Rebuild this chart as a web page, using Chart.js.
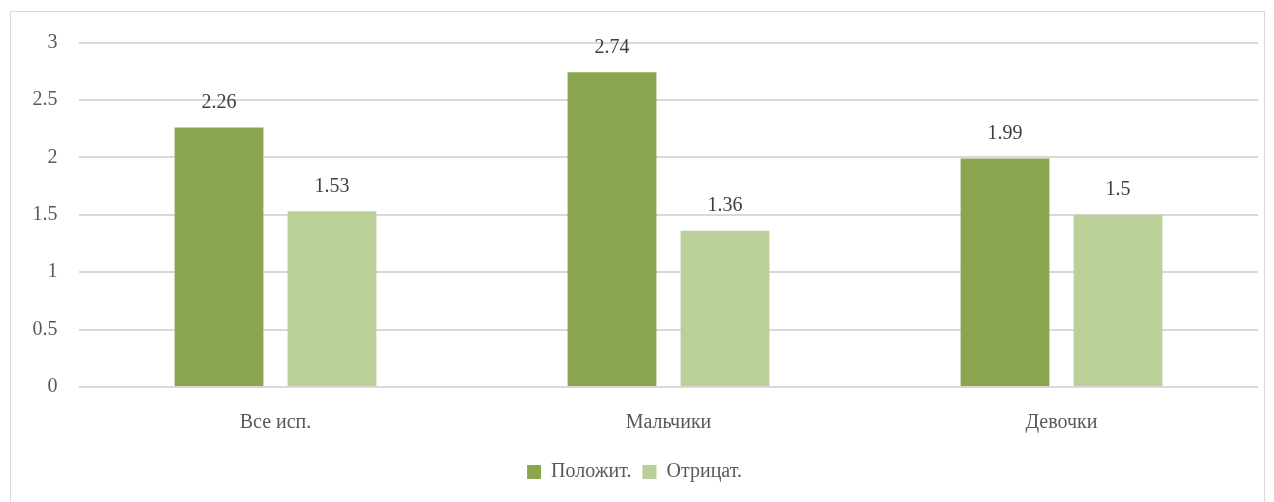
<!DOCTYPE html>
<html>
<head>
<meta charset="utf-8">
<script src="https://cdn.jsdelivr.net/npm/chart.js@4.4.1/dist/chart.umd.min.js"></script>
<style>
    html, body { margin: 0; padding: 0; background: #fff; }
    #box {
        position: absolute; left: 10px; top: 11px;
        width: 1253px; height: 500px;
        border: 1px solid #d9d9d9;
        overflow: hidden;
    }
    #box canvas { display: block; position: absolute; left: 0; top: -3px; }
</style>
</head>
<body>
<div id="box"><canvas id="chart" width="1253" height="503"></canvas></div>
<script>
const categories = ["Все исп.", "Мальчики", "Девочки"];
const positive = [2.26, 2.74, 1.99];
const negative = [1.53, 1.36, 1.5];
const seriesNames = ["Положит.", "Отрицат."];

const COLORS = {
    dark:  "#8ba64f",
    light: "#bbcf98",
    grid:  "#d9d9d9",
    text:  "#595959",
    label: "#404040",
};
const FONT = "'Liberation Serif', 'DejaVu Serif', serif";

// values over the bars
const barLabels = {
    id: "barLabels",
    afterDatasetsDraw(chart) {
        const ctx = chart.ctx;
        ctx.save();
        ctx.fillStyle = COLORS.label;
        ctx.font = `20px ${FONT}`;
        ctx.textAlign = "center";
        ctx.textBaseline = "bottom";
        chart.data.datasets.forEach((ds, i) => {
            const meta = chart.getDatasetMeta(i);
            meta.data.forEach((bar, j) => {
                ctx.fillText(String(ds.data[j]), bar.x, bar.y - 15);
            });
        });
        ctx.restore();
    }
};

new Chart(document.getElementById("chart"), {
    type: "bar",
    data: {
        labels: categories,
        datasets: [
            { label: seriesNames[0], data: positive, backgroundColor: COLORS.dark },
            { label: seriesNames[1], data: negative, backgroundColor: COLORS.light },
        ]
    },
    options: {
        responsive: false,
        animation: false,
        devicePixelRatio: 1,
        categoryPercentage: 0.575,
        barPercentage: 0.786,
        layout: { padding: { left: 0, right: 6, top: 8, bottom: 20 } },
        plugins: {
            legend: {
                position: "bottom",
                labels: {
                    font: { family: FONT, size: 20 },
                    color: COLORS.text,
                    boxWidth: 14,
                    boxHeight: 14,
                    padding: 11,
                }
            },
            tooltip: { enabled: false }
        },
        scales: {
            x: {
                grid: { display: false },
                border: { display: false },
                ticks: { font: { family: FONT, size: 20 }, color: COLORS.text, padding: 16 }
            },
            y: {
                min: 0, max: 3,
                ticks: {
                    stepSize: 0.5,
                    font: { family: FONT, size: 20 },
                    color: COLORS.text,
                    padding: 21.5,
                    callback: v => String(v)
                },
                grid: { color: COLORS.grid, lineWidth: 2, drawTicks: false },
                border: { display: false }
            }
        }
    },
    plugins: [barLabels]
});
</script>
</body>
</html>
